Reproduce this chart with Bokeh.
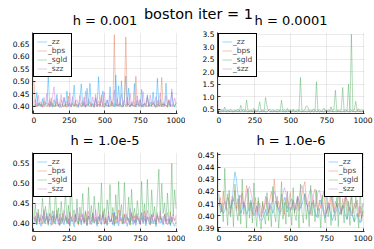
import numpy as np
from bokeh.plotting import figure
from bokeh.layouts import column, row
from bokeh.models import Range1d, FixedTicker, PrintfTickFormatter, Label, Legend, LegendItem
from bokeh.embed import file_html
from bokeh.resources import INLINE

FONT = "DejaVu Sans"
main_title = "boston iter = 1"
titles = ["h = 0.001", "h = 0.0001", "h = 1.0e-5", "h = 1.0e-6"]
series_names = ["_zz", "_bps", "_sgld", "_szz"]
colors = ["#009AFA", "#E26F46", "#3DA44D", "#C271D2"]
x_ticks = [0, 250, 500, 750, 1000]

# ---- h = 0.001 ----
p1_zz = [0.405,0.398,0.456,0.402,0.412,0.399,0.431,0.404,0.415,0.409,
 0.524,0.401,0.418,0.397,0.427,0.403,0.448,0.400,0.411,0.396,
 0.406,0.437,0.399,0.461,0.404,0.413,0.398,0.422,0.485,0.402,
 0.407,0.396,0.429,0.490,0.401,0.417,0.399,0.472,0.405,0.492,
 0.400,0.412,0.398,0.436,0.403,0.518,0.401,0.419,0.462,0.397,
 0.405,0.426,0.399,0.478,0.402,0.414,0.398,0.525,0.403,0.482,
 0.400,0.502,0.397,0.420,0.521,0.404,0.473,0.399,0.411,0.402,
 0.491,0.398,0.424,0.405,0.400,0.468,0.397,0.413,0.403,0.446,
 0.399,0.418,0.401,0.457,0.404,0.396,0.512,0.402,0.428,0.398,
 0.410,0.403,0.493,0.399,0.421,0.400,0.458,0.405,0.397,0.416]
p1_bps = [0.502,0.404,0.398,0.415,0.401,0.409,0.396,0.421,0.403,0.399,
 0.412,0.397,0.434,0.401,0.406,0.398,0.418,0.402,0.395,0.427,
 0.404,0.399,0.411,0.396,0.441,0.403,0.398,0.409,0.401,0.423,
 0.397,0.405,0.414,0.399,0.402,0.438,0.396,0.407,0.401,0.419,
 0.398,0.404,0.395,0.429,0.402,0.410,0.399,0.446,0.403,0.397,
 0.412,0.401,0.405,0.398,0.421,0.403,0.685,0.399,0.408,0.402,
 0.415,0.397,0.404,0.432,0.676,0.400,0.409,0.398,0.417,0.403,
 0.399,0.520,0.405,0.401,0.426,0.397,0.410,0.403,0.398,0.439,
 0.402,0.406,0.399,0.414,0.401,0.397,0.423,0.404,0.400,0.515,
 0.398,0.411,0.403,0.396,0.428,0.401,0.407,0.399,0.405,0.412]
p1_sgld = [0.404,0.409,0.401,0.406,0.411,0.403,0.407,0.400,0.410,0.405,
 0.402,0.408,0.404,0.412,0.399,0.406,0.403,0.409,0.401,0.407,
 0.405,0.400,0.410,0.404,0.408,0.402,0.406,0.413,0.401,0.405,
 0.409,0.403,0.407,0.400,0.411,0.404,0.402,0.408,0.405,0.401,
 0.406,0.410,0.403,0.407,0.399,0.405,0.409,0.402,0.406,0.412,
 0.404,0.401,0.408,0.403,0.407,0.400,0.405,0.410,0.402,0.406,
 0.409,0.404,0.401,0.407,0.403,0.411,0.405,0.400,0.408,0.404,
 0.402,0.406,0.410,0.403,0.407,0.401,0.405,0.409,0.404,0.400,
 0.408,0.403,0.406,0.412,0.402,0.405,0.409,0.401,0.407,0.404,
 0.410,0.403,0.406,0.400,0.408,0.405,0.402,0.409,0.404,0.407]
p1_szz = [0.412,0.428,0.401,0.445,0.407,0.419,0.398,0.436,0.411,0.452,
 0.404,0.425,0.399,0.441,0.478,0.406,0.431,0.402,0.417,0.447,
 0.400,0.433,0.409,0.421,0.398,0.455,0.405,0.439,0.402,0.418,
 0.427,0.401,0.444,0.408,0.423,0.399,0.461,0.404,0.430,0.413,
 0.402,0.438,0.406,0.449,0.400,0.421,0.411,0.434,0.398,0.457,
 0.405,0.426,0.401,0.443,0.409,0.418,0.465,0.403,0.432,0.400,
 0.415,0.448,0.404,0.424,0.399,0.437,0.407,0.451,0.402,0.420,
 0.412,0.398,0.442,0.406,0.429,0.401,0.459,0.405,0.417,0.435,
 0.400,0.446,0.408,0.422,0.403,0.439,0.398,0.428,0.453,0.404,
 0.416,0.401,0.444,0.407,0.425,0.399,0.470,0.405,0.433,0.411]

# ---- h = 0.0001 ----
p2_zz = [0.405,0.398,0.431,0.402,0.446,0.399,0.412,0.404,0.428,0.397,
 0.415,0.401,0.438,0.403,0.409,0.396,0.452,0.400,0.418,0.406,
 0.399,0.434,0.402,0.411,0.397,0.425,0.404,0.449,0.398,0.413,
 0.401,0.420,0.405,0.396,0.437,0.402,0.410,0.399,0.429,0.403,
 0.417,0.398,0.444,0.401,0.406,0.400,0.423,0.397,0.414,0.404,
 0.399,0.435,0.402,0.409,0.398,0.451,0.403,0.416,0.400,0.426,
 0.405,0.397,0.419,0.401,0.440,0.399,0.408,0.404,0.431,0.398,
 0.412,0.402,0.397,0.427,0.405,0.400,0.447,0.403,0.415,0.399,
 0.422,0.401,0.407,0.398,0.436,0.404,0.411,0.397,0.425,0.402,
 0.400,0.439,0.405,0.413,0.398,0.430,0.403,0.409,0.399,0.418]
p2_bps = [0.410,0.402,0.398,0.425,0.404,0.415,0.399,0.436,0.401,0.408,
 0.397,0.421,0.405,0.400,0.443,0.403,0.411,0.398,0.429,0.402,
 0.406,0.399,0.418,0.404,0.397,0.432,0.401,0.409,0.400,0.424,
 0.403,0.414,0.398,0.405,0.447,0.401,0.407,0.399,0.420,0.404,
 0.398,0.412,0.402,0.433,0.400,0.406,0.397,0.426,0.403,0.410,
 0.401,0.419,0.399,0.404,0.439,0.402,0.408,0.398,0.416,0.405,
 0.400,0.428,0.403,0.397,0.413,0.401,0.445,0.404,0.409,0.399,
 0.423,0.402,0.406,0.398,0.417,0.403,0.400,0.435,0.405,0.411,
 0.399,0.402,0.427,0.404,0.397,0.414,0.401,0.408,0.441,0.403,
 0.406,0.398,0.420,0.402,0.410,0.400,0.431,0.404,0.399,0.415]
p2_sgld = [0.452,0.418,0.487,0.431,0.590,0.425,0.472,0.414,0.503,0.436,
 0.421,0.468,0.429,0.512,0.417,0.660,0.441,0.493,0.426,0.870,
 0.433,0.415,0.478,0.422,0.540,0.437,0.419,0.484,0.800,0.428,
 0.461,0.416,0.970,0.630,0.439,0.507,0.420,0.475,0.432,0.418,
 0.496,0.427,0.451,0.860,0.423,0.488,0.414,0.535,0.430,0.466,
 0.419,0.502,0.434,0.421,0.479,0.426,1.770,0.440,0.417,0.492,
 0.630,0.600,0.425,0.470,0.418,0.515,0.432,1.600,0.423,0.483,
 0.429,0.416,0.548,0.437,0.421,0.474,0.427,0.600,0.419,0.506,
 1.260,0.433,0.462,0.418,0.497,1.370,0.424,0.480,0.431,1.500,
 0.420,3.500,0.438,0.473,0.810,0.426,0.520,0.417,0.489,0.435]
p2_szz = [0.415,0.402,0.437,0.406,0.420,0.399,0.448,0.404,0.411,0.428,
 0.401,0.433,0.407,0.417,0.398,0.455,0.403,0.422,0.409,0.440,
 0.400,0.426,0.405,0.413,0.446,0.402,0.431,0.398,0.419,0.408,
 0.436,0.401,0.424,0.404,0.458,0.399,0.416,0.410,0.432,0.403,
 0.421,0.406,0.444,0.400,0.427,0.412,0.398,0.439,0.405,0.418,
 0.402,0.450,0.407,0.423,0.399,0.434,0.411,0.404,0.429,0.401,
 0.442,0.406,0.419,0.398,0.453,0.403,0.425,0.408,0.437,0.400,
 0.414,0.430,0.402,0.447,0.405,0.421,0.399,0.435,0.410,0.403,
 0.426,0.401,0.441,0.407,0.418,0.398,0.449,0.404,0.432,0.412,
 0.400,0.438,0.406,0.423,0.402,0.456,0.405,0.420,0.409,0.433]

# ---- h = 1.0e-5 ----
p3_zz = [0.402,0.414,0.396,0.421,0.405,0.393,0.418,0.408,0.399,0.426,
 0.401,0.411,0.395,0.419,0.404,0.398,0.423,0.407,0.394,0.415,
 0.403,0.397,0.420,0.400,0.412,0.395,0.417,0.406,0.392,0.424,
 0.404,0.399,0.413,0.396,0.421,0.402,0.408,0.394,0.418,0.405,
 0.397,0.425,0.401,0.410,0.393,0.416,0.404,0.399,0.422,0.398,
 0.407,0.395,0.419,0.403,0.411,0.396,0.428,0.400,0.406,0.394,
 0.417,0.402,0.398,0.421,0.405,0.393,0.413,0.401,0.424,0.397,
 0.409,0.395,0.418,0.404,0.399,0.426,0.400,0.412,0.394,0.416,
 0.403,0.397,0.422,0.399,0.408,0.392,0.419,0.405,0.401,0.414,
 0.396,0.423,0.402,0.397,0.411,0.394,0.417,0.400,0.393,0.406]
p3_bps = [0.408,0.419,0.401,0.427,0.404,0.413,0.398,0.431,0.406,0.417,
 0.400,0.424,0.409,0.397,0.420,0.403,0.433,0.405,0.412,0.399,
 0.426,0.402,0.415,0.407,0.398,0.429,0.404,0.418,0.401,0.422,
 0.410,0.396,0.425,0.403,0.414,0.400,0.432,0.406,0.419,0.398,
 0.411,0.427,0.402,0.416,0.405,0.399,0.423,0.408,0.430,0.401,
 0.413,0.397,0.421,0.404,0.409,0.426,0.400,0.418,0.403,0.434,
 0.406,0.412,0.399,0.424,0.402,0.416,0.408,0.397,0.428,0.404,
 0.419,0.401,0.425,0.406,0.398,0.414,0.403,0.431,0.400,0.417,
 0.409,0.396,0.422,0.405,0.413,0.399,0.427,0.402,0.418,0.407,
 0.400,0.424,0.404,0.411,0.398,0.429,0.403,0.415,0.406,0.420]
p3_sgld = [0.412,0.448,0.398,0.436,0.405,0.421,0.463,0.401,0.443,0.417,
 0.395,0.470,0.409,0.432,0.400,0.487,0.414,0.439,0.397,0.455,
 0.406,0.426,0.478,0.402,0.446,0.393,0.509,0.418,0.434,0.404,
 0.461,0.399,0.441,0.416,0.475,0.403,0.428,0.396,0.490,0.411,
 0.445,0.402,0.468,0.420,0.398,0.452,0.407,0.501,0.415,0.437,
 0.400,0.459,0.423,0.497,0.405,0.440,0.394,0.472,0.410,0.505,
 0.418,0.447,0.401,0.502,0.427,0.408,0.466,0.396,0.485,0.413,
 0.438,0.403,0.457,0.421,0.399,0.505,0.411,0.449,0.404,0.510,
 0.430,0.402,0.484,0.416,0.442,0.397,0.468,0.535,0.409,0.500,
 0.425,0.451,0.405,0.476,0.414,0.398,0.550,0.419,0.484,0.437]
p3_szz = [0.415,0.403,0.428,0.409,0.398,0.422,0.411,0.436,0.405,0.418,
 0.400,0.426,0.413,0.404,0.431,0.408,0.419,0.397,0.424,0.410,
 0.402,0.433,0.407,0.416,0.399,0.427,0.412,0.405,0.421,0.403,
 0.438,0.409,0.417,0.401,0.425,0.406,0.414,0.398,0.430,0.411,
 0.404,0.420,0.407,0.435,0.402,0.418,0.410,0.396,0.423,0.408,
 0.416,0.403,0.429,0.405,0.413,0.399,0.426,0.409,0.419,0.402,
 0.432,0.406,0.415,0.400,0.424,0.411,0.404,0.437,0.407,0.417,
 0.401,0.422,0.409,0.414,0.397,0.428,0.405,0.419,0.403,0.433,
 0.408,0.416,0.400,0.425,0.412,0.404,0.421,0.407,0.430,0.402,
 0.418,0.410,0.399,0.427,0.406,0.414,0.403,0.423,0.408,0.412]

# ---- h = 1.0e-6 ----
p4_zz = [0.414,0.410,0.405,0.402,0.404,0.409,0.415,0.412,0.406,0.410,
 0.425,0.436,0.430,0.418,0.408,0.402,0.405,0.411,0.407,0.401,
 0.404,0.409,0.413,0.406,0.400,0.403,0.408,0.402,0.398,0.396,
 0.397,0.401,0.405,0.400,0.404,0.410,0.407,0.402,0.406,0.412,
 0.409,0.404,0.401,0.405,0.411,0.415,0.409,0.403,0.407,0.412,
 0.414,0.408,0.404,0.410,0.416,0.412,0.406,0.409,0.414,0.418,
 0.412,0.405,0.401,0.406,0.411,0.408,0.403,0.399,0.404,0.409,
 0.413,0.407,0.402,0.398,0.403,0.408,0.405,0.400,0.396,0.401,
 0.406,0.410,0.405,0.401,0.404,0.409,0.405,0.400,0.397,0.402,
 0.407,0.403,0.399,0.395,0.398,0.402,0.397,0.394,0.399,0.404]
p4_bps = [0.408,0.415,0.403,0.420,0.411,0.405,0.418,0.409,0.402,0.416,
 0.412,0.421,0.406,0.414,0.400,0.410,0.419,0.407,0.413,0.425,
 0.417,0.404,0.411,0.401,0.408,0.415,0.403,0.412,0.406,0.399,
 0.410,0.405,0.416,0.408,0.402,0.413,0.420,0.411,0.430,0.414,
 0.407,0.412,0.403,0.418,0.409,0.401,0.415,0.406,0.411,0.419,
 0.405,0.413,0.402,0.409,0.416,0.404,0.411,0.417,0.423,0.428,
 0.414,0.407,0.412,0.401,0.409,0.418,0.422,0.410,0.404,0.413,
 0.406,0.415,0.420,0.408,0.402,0.411,0.405,0.416,0.409,0.403,
 0.412,0.407,0.418,0.410,0.401,0.414,0.406,0.420,0.411,0.404,
 0.409,0.415,0.402,0.410,0.406,0.413,0.399,0.408,0.395,0.404]
p4_sgld = [0.418,0.402,0.410,0.395,0.439,0.407,0.392,0.421,0.399,0.413,
 0.391,0.426,0.404,0.396,0.417,0.393,0.430,0.401,0.409,0.390,
 0.422,0.398,0.411,0.394,0.427,0.403,0.391,0.415,0.397,0.389,
 0.412,0.400,0.393,0.419,0.396,0.408,0.391,0.424,0.402,0.395,
 0.416,0.390,0.405,0.428,0.397,0.411,0.393,0.420,0.399,0.407,
 0.392,0.423,0.401,0.396,0.414,0.390,0.426,0.403,0.394,0.418,
 0.397,0.409,0.391,0.425,0.400,0.413,0.395,0.421,0.398,0.406,
 0.390,0.417,0.402,0.394,0.429,0.399,0.410,0.392,0.420,0.404,
 0.396,0.415,0.391,0.423,0.401,0.408,0.394,0.418,0.397,0.412,
 0.392,0.426,0.400,0.395,0.416,0.403,0.390,0.421,0.398,0.410]
p4_szz = [0.410,0.406,0.403,0.407,0.412,0.409,0.404,0.401,0.405,0.410,
 0.414,0.409,0.404,0.408,0.413,0.417,0.412,0.406,0.411,0.418,
 0.422,0.424,0.419,0.413,0.408,0.404,0.401,0.405,0.410,0.406,
 0.402,0.406,0.411,0.415,0.410,0.405,0.409,0.414,0.420,0.416,
 0.410,0.405,0.408,0.413,0.418,0.423,0.419,0.413,0.408,0.404,
 0.407,0.412,0.409,0.405,0.410,0.416,0.421,0.425,0.420,0.414,
 0.409,0.413,0.418,0.422,0.417,0.411,0.407,0.412,0.419,0.421,
 0.416,0.410,0.405,0.401,0.404,0.408,0.413,0.417,0.412,0.406,
 0.402,0.405,0.410,0.407,0.403,0.406,0.411,0.416,0.413,0.408,
 0.404,0.400,0.403,0.408,0.412,0.409,0.405,0.402,0.406,0.410]

panel_data = [
    [p1_zz, p1_bps, p1_sgld, p1_szz],
    [p2_zz, p2_bps, p2_sgld, p2_szz],
    [p3_zz, p3_bps, p3_sgld, p3_szz],
    [p4_zz, p4_bps, p4_sgld, p4_szz],
]
y_ranges = [(0.372, 0.694), (0.33, 3.57), (0.380, 0.577), (0.387, 0.452)]
y_ticks = [[0.40, 0.45, 0.50, 0.55, 0.60, 0.65],
           [0.5, 1.0, 1.5, 2.0, 2.5, 3.0, 3.5],
           [0.40, 0.45, 0.50, 0.55],
           [0.39, 0.40, 0.41, 0.42, 0.43, 0.44, 0.45]]
y_formats = ["%.2f", "%.1f", "%.2f", "%.2f"]
legend_locs = ["top_left", "top_left", "top_left", "top_right"]


def make_panel(k, w, h, bl, br, bt, title):
    p = figure(width=w, height=h, output_backend="svg", toolbar_location=None,
               x_range=Range1d(-9, 1010), y_range=Range1d(*y_ranges[k]),
               min_border_left=bl, min_border_right=br, min_border_top=bt,
               min_border_bottom=0, title=title)
    if title:
        p.title.text_font = FONT
        p.title.text_font_size = "13px"
        p.title.text_font_style = "normal"
        p.title.align = "center"
        p.title.text_color = "black"
        p.title.standoff = 10
    p.outline_line_color = None
    p.background_fill_color = "white"
    p.border_fill_color = "white"
    items = []
    for name, col, vals in zip(series_names, colors, panel_data[k]):
        xs = np.linspace(1, 1000, len(vals))
        r = p.line(xs, vals, line_color=col, line_alpha=0.4, line_width=1)
        items.append(LegendItem(label=name, renderers=[r]))
    for ax in (p.xaxis[0], p.yaxis[0]):
        ax.axis_line_color = "#333333"
        ax.axis_line_width = 1
        ax.major_tick_line_color = "#333333"
        ax.major_tick_in = 3
        ax.major_tick_out = 0
        ax.minor_tick_line_color = None
        ax.major_label_text_font = FONT
        ax.major_label_text_font_size = "7.5px"
        ax.major_label_text_color = "black"
        ax.major_label_standoff = 3
    p.xaxis.ticker = FixedTicker(ticks=x_ticks)
    p.xaxis.formatter = PrintfTickFormatter(format="%d")
    p.yaxis.ticker = FixedTicker(ticks=y_ticks[k])
    p.yaxis.formatter = PrintfTickFormatter(format=y_formats[k])
    p.grid.grid_line_color = "black"
    p.grid.grid_line_alpha = 0.08
    leg = Legend(items=items, location=legend_locs[k])
    leg.border_line_color = "black"
    leg.border_line_width = 1
    leg.border_line_alpha = 1
    leg.background_fill_color = "white"
    leg.background_fill_alpha = 1
    leg.label_text_font = FONT
    leg.label_text_font_size = "7.5px"
    leg.label_height = 9
    leg.glyph_height = 9
    leg.glyph_width = 10
    leg.label_standoff = 1
    leg.spacing = 0
    leg.padding = 3
    leg.margin = 1
    p.add_layout(leg)
    return p


# header with the main title and the top-row subplot titles
hdr = figure(width=374, height=28, output_backend="svg", toolbar_location=None,
             x_range=Range1d(0, 374), y_range=Range1d(0, 28), title=None,
             x_axis_location=None, y_axis_location=None, min_border=0)
hdr.grid.visible = False
hdr.outline_line_color = None
hdr.add_layout(Label(x=198, y=15, text=main_title, text_font=FONT,
                     text_font_size="14.5px", text_align="center",
                     text_baseline="alphabetic", text_color="black"))
hdr.add_layout(Label(x=104.5, y=8, text=titles[0], text_font=FONT,
                     text_font_size="13px", text_align="center",
                     text_baseline="alphabetic", text_color="black"))
hdr.add_layout(Label(x=290.5, y=8, text=titles[1], text_font=FONT,
                     text_font_size="13px", text_align="center",
                     text_baseline="alphabetic", text_color="black"))

p1 = make_panel(0, 185, 97, 32, 8, 4, None)
p2 = make_panel(1, 189, 97, 32, 10, 4, None)
p3 = make_panel(2, 185, 118, 32, 8, 0, titles[2])
p4 = make_panel(3, 189, 118, 32, 10, 0, titles[3])

layout = column(hdr, row(p1, p2), row(p3, p4))

open("out.html", "w").write(file_html(layout, INLINE))
